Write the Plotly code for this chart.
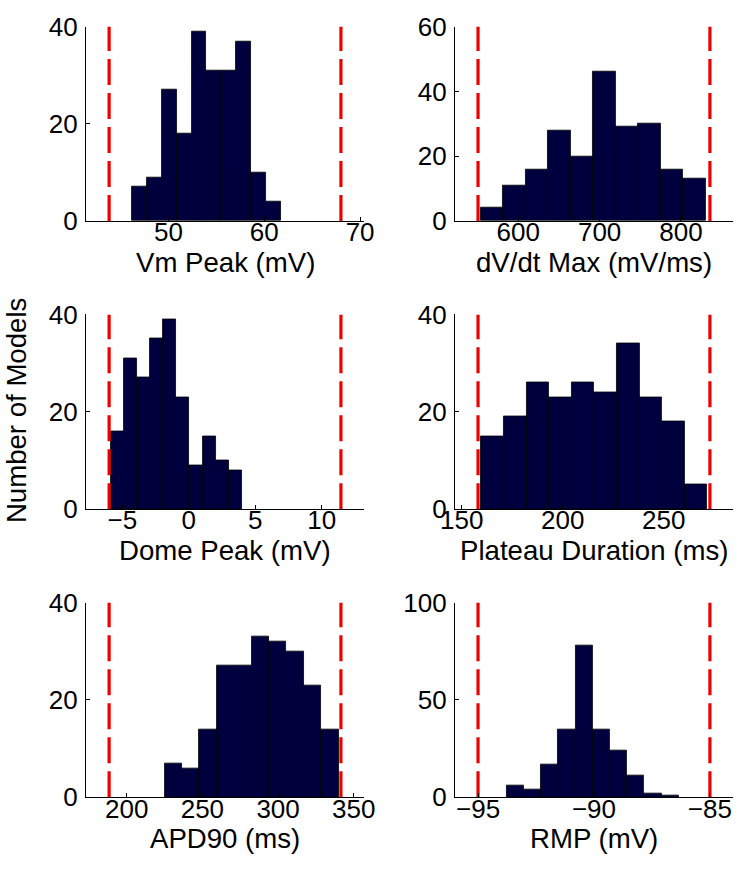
import numpy as np
import plotly.graph_objects as go

W, H = 747, 879

# ---------------- data ----------------
titles = ["Vm Peak (mV)", "dV/dt Max (mV/ms)", "Dome Peak (mV)",
          "Plateau Duration (ms)", "APD90 (ms)", "RMP (mV)"]
ylabel = "Number of Models"

vm_counts = [7, 9, 27, 18, 39, 31, 31, 37, 10, 4]
vm_edges = [46.2, 61.7]
vm_bounds = [43.8, 68.0]
vm_xticks = [50, 60, 70]
vm_yticks = [0, 20, 40]

dvdt_counts = [4, 11, 16, 28, 20, 46, 29, 30, 16, 13]
dvdt_edges = [553.7, 830.1]
dvdt_bounds = [550.5, 835.6]
dvdt_xticks = [600, 700, 800]
dvdt_yticks = [0, 20, 40, 60]

dome_counts = [16, 31, 27, 35, 39, 23, 9, 15, 10, 8]
dome_edges = [-5.87, 3.99]
dome_bounds = [-5.99, 11.44]
dome_xticks = [-5, 0, 5, 10]
dome_yticks = [0, 20, 40]

plat_counts = [15, 19, 26, 23, 26, 24, 34, 23, 18, 5]
plat_edges = [159.7, 271.6]
plat_bounds = [158.1, 272.9]
plat_xticks = [150, 200, 250]
plat_yticks = [0, 20, 40]

apd_counts = [7, 6, 14, 27, 27, 33, 32, 30, 23, 14]
apd_edges = [225.0, 340.0]
apd_bounds = [188.4, 341.5]
apd_xticks = [200, 250, 300, 350]
apd_yticks = [0, 20, 40]

rmp_counts = [6, 4, 17, 35, 78, 35, 24, 11, 2, 1]
rmp_edges = [-93.77, -86.35]
rmp_bounds = [-95.0, -85.0]
rmp_xticks = [-95, -90, -85]
rmp_yticks = [0, 50, 100]

panels = [
    (vm_counts, vm_edges, vm_bounds, vm_xticks, vm_yticks),
    (dvdt_counts, dvdt_edges, dvdt_bounds, dvdt_xticks, dvdt_yticks),
    (dome_counts, dome_edges, dome_bounds, dome_xticks, dome_yticks),
    (plat_counts, plat_edges, plat_bounds, plat_xticks, plat_yticks),
    (apd_counts, apd_edges, apd_bounds, apd_xticks, apd_yticks),
    (rmp_counts, rmp_edges, rmp_bounds, rmp_xticks, rmp_yticks),
]

# ---------------- layout geometry (pixels) ----------------
col_px = [(73.5, 361.7), (455.7, 744.0)]
row_px = [(12.0, 213.3), (310.0, 511.7), (608.3, 810.0)]

FONT = "Liberation Sans, Arial, Helvetica, sans-serif"
TICK_SIZE = 26
LABEL_SIZE = 27.6
BAR_COLOR = "#00003f"
RED = "#ee0000"

fig = go.Figure()
annotations = []
layout_axes = {}

for i, (counts, edges, bounds, xt, yt) in enumerate(panels):
    r, c = divmod(i, 2)
    n = len(counts)
    e = np.linspace(edges[0], edges[1], n + 1)
    centers = (e[:-1] + e[1:]) / 2
    width = e[1] - e[0]
    xa = "x" if i == 0 else f"x{i+1}"
    ya = "y" if i == 0 else f"y{i+1}"
    ymax = yt[-1]
    fig.add_trace(go.Bar(x=centers, y=counts, width=width, xaxis=xa, yaxis=ya,
                         marker=dict(color=BAR_COLOR, line=dict(color="#000000", width=0.8)),
                         showlegend=False))
    for b in bounds:
        fig.add_trace(go.Scatter(x=[b, b], y=[0, ymax], mode="lines", xaxis=xa, yaxis=ya,
                                 line=dict(color=RED, width=3.2, dash="26px,8px"),
                                 showlegend=False, hoverinfo="skip"))
    span = bounds[1] - bounds[0]
    xr = [bounds[0] - 0.1 * span, bounds[1] + 0.1 * span]
    x0, x1 = col_px[c]
    t, btm = row_px[r]
    xkey = "xaxis" if i == 0 else f"xaxis{i+1}"
    ykey = "yaxis" if i == 0 else f"yaxis{i+1}"
    layout_axes[xkey] = dict(
        domain=[x0 / W, x1 / W], range=xr, anchor=ya,
        tickvals=xt, ticks="inside", ticklen=4, tickcolor="black",
        showline=True, linecolor="black", linewidth=1, showgrid=False, zeroline=False,
        tickfont=dict(family=FONT, size=TICK_SIZE, color="black"),
        ticklabelstandoff=-12,
    )
    layout_axes[ykey] = dict(
        domain=[1 - btm / H, 1 - t / H], range=[0, ymax], anchor=xa,
        tickvals=yt, ticks="inside", ticklen=4, tickcolor="black",
        showline=True, linecolor="black", linewidth=1, showgrid=False, zeroline=False,
        tickfont=dict(family=FONT, size=TICK_SIZE, color="black"),
        ticklabelstandoff=2,
    )
    annotations.append(dict(
        text=titles[i], xref="paper", yref="paper",
        x=(x0 + x1) / 2 / W, y=1 - (btm + 43) / H,
        xanchor="center", yanchor="middle", showarrow=False,
        font=dict(family=FONT, size=LABEL_SIZE, color="black"),
    ))

annotations.append(dict(
    text=ylabel, xref="paper", yref="paper", x=-17 / W, y=1 - 410 / H,
    xanchor="left", yanchor="middle", textangle=-90, showarrow=False,
    font=dict(family=FONT, size=LABEL_SIZE, color="black"),
))

fig.update_layout(
    width=W, height=H, margin=dict(l=0, r=0, t=0, b=0),
    paper_bgcolor="white", plot_bgcolor="white",
    bargap=0, showlegend=False, annotations=annotations,
    **layout_axes,
)

fig.write_html("out.html", config={"displayModeBar": False},
               post_script="document.body.style.margin='0';")
